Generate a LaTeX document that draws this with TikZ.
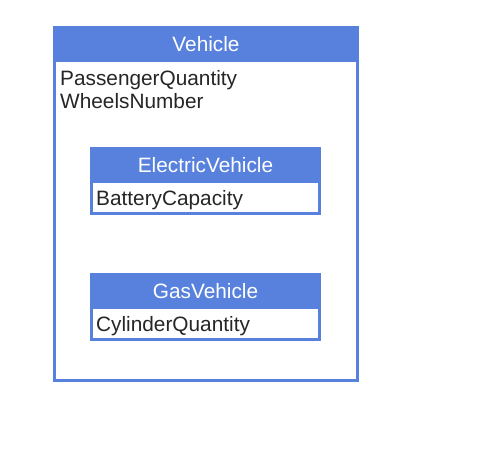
\documentclass[tikz,border=0pt]{standalone}
\usepackage{fontspec}
\setmainfont{Liberation Sans}
\definecolor{classblue}{RGB}{87,129,220}
\definecolor{attrgray}{RGB}{38,38,38}
\tikzset{
  classbody/.style={draw=classblue, line width=3pt, fill=white, inner sep=0pt, outer sep=0pt, anchor=north west},
  classhead/.style={fill=classblue, text=white, inner sep=0pt, outer sep=0pt, anchor=north west, font=\fontsize{20.8}{24}\selectfont, text height=15pt, text depth=0pt},
  attr/.style={text=attrgray, inner sep=0pt, anchor=base west, font=\fontsize{20.8}{24}\selectfont}
}
\begin{document}
\begin{tikzpicture}[x=1pt,y=-1pt]
\useasboundingbox (0,0) rectangle (477,452);

\node[classbody, minimum width=303pt, minimum height=353pt] (Vehicle) at (54.5,27.5) {};
\node[classhead, minimum width=306pt, minimum height=36pt] (Vehicle head) at (53,26) {Vehicle};
\node[attr] (PassengerQuantity) at (60,85) {PassengerQuantity};
\node[attr] (WheelsNumber) at (60,108) {WheelsNumber};

\foreach \cls/\attrname/\top in {ElectricVehicle/BatteryCapacity/147, GasVehicle/CylinderQuantity/273} {
  \node[classbody, minimum width=228pt, minimum height=65pt] (\cls) at (91.5,\top+1.5) {};
  \node[classhead, minimum width=231pt, minimum height=36pt] (\cls head) at (90,\top) {\cls};
  \node[attr] (\attrname) at (96,\top+58.7) {\attrname};
}
\end{tikzpicture}
\end{document}
